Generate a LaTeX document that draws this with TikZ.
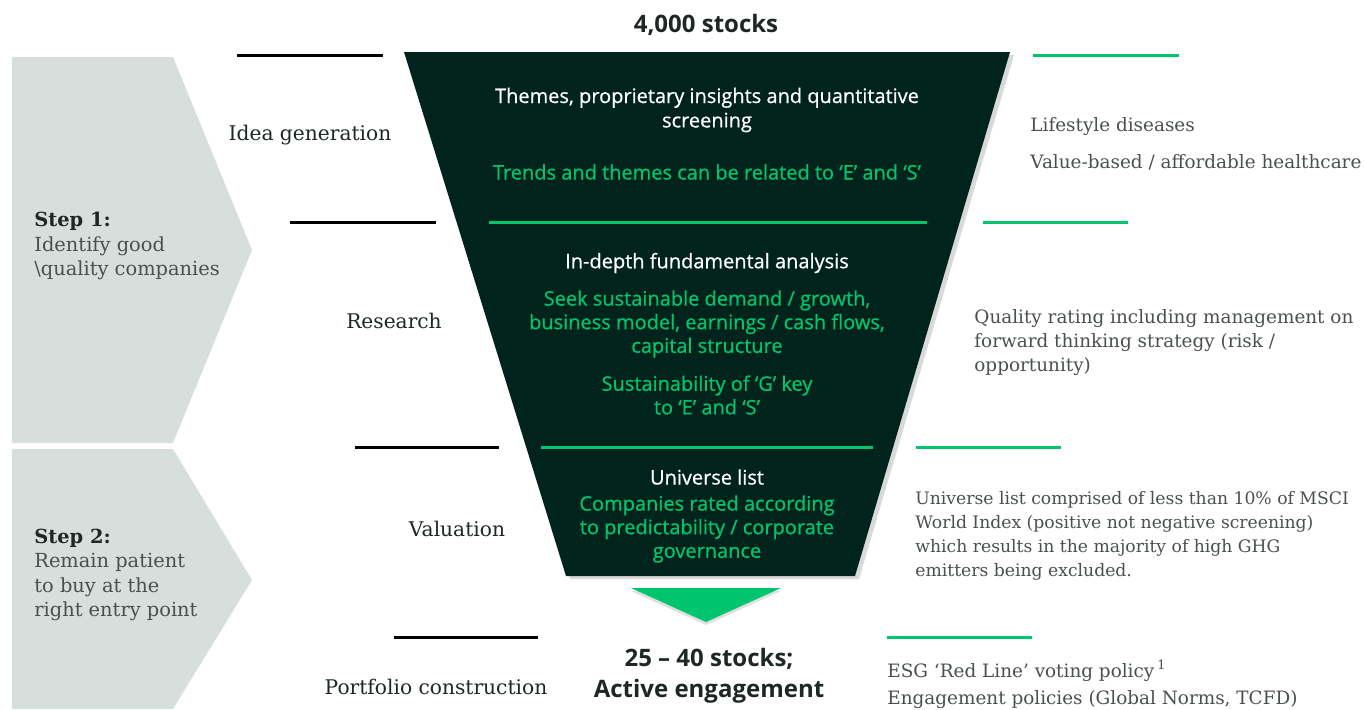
\documentclass[tikz,border=0pt]{standalone}
\usepackage{fontspec}
\setmainfont{DejaVu Serif}
\setsansfont{Open Sans}
\newfontfamily\funnelfont{Open Sans}[FakeBold=0.6]
\usetikzlibrary{positioning,shadows}
\definecolor{funneldark}{HTML}{00241C}
\definecolor{brightgreen}{HTML}{00C46E}
\definecolor{stepgrey}{HTML}{D7DFDC}
\definecolor{inkdark}{HTML}{1E2626}
\definecolor{inkgrey}{HTML}{4A4F4F}
\tikzset{
	stage/.style={inner sep=0pt, text=inkdark, font=\fontsize{10.1}{12}\selectfont},
	note/.style={inner sep=0pt, anchor=west, align=left, text=inkgrey, font=\fontsize{9.2}{12}\selectfont},
	steptext/.style={inner sep=0pt, anchor=west, align=left, text=inkgrey, font=\fontsize{9.7}{12.3}\selectfont},
	bighead/.style={inner sep=0pt, align=center, text=inkdark, font=\sffamily\bfseries\fontsize{12}{15.5}\selectfont},
	whitehead/.style={inner sep=0pt, align=center, text=white, font=\funnelfont\fontsize{10}{12.2}\selectfont},
	greentext/.style={inner sep=0pt, align=center, text=brightgreen, font=\funnelfont\fontsize{10}{11.8}\selectfont},
	leftrule/.style={draw=black, line width=1.5pt},
	rightrule/.style={draw=brightgreen, line width=1.5pt}
}
\begin{document}
\begin{tikzpicture}[x=0.5pt, y=-0.5pt]
	\useasboundingbox (0,0) rectangle (1364,709);
	\fill[stepgrey] (12,57) -- (173,57) -- (252,250) -- (173,443) -- (12,443) -- cycle;
	\fill[stepgrey] (12,449) -- (173,449) -- (252,580) -- (173,709) -- (12,709) -- cycle;
	\fill[funneldark, drop shadow={shadow xshift=2pt, shadow yshift=-1.5pt, opacity=0.3}] (404,52) -- (1010,52) -- (855,576) -- (566,576) -- cycle;
	\fill[brightgreen, drop shadow={shadow xshift=0pt, shadow yshift=-1.5pt, opacity=0.25}] (631,588) -- (781,588) -- (706,622) -- cycle;
	\draw[rightrule] (489,222) -- (927,222);
	\draw[rightrule] (541,447) -- (873,447);
	\draw[leftrule] (237,55) -- (383,55);
	\draw[leftrule] (290,222) -- (436,222);
	\draw[leftrule] (355,447) -- (499,447);
	\draw[leftrule] (394,637) -- (538,637);
	\draw[rightrule] (1033,55) -- (1179,55);
	\draw[rightrule] (983,222) -- (1128,222);
	\draw[rightrule] (916,447) -- (1061,447);
	\draw[rightrule] (887,637) -- (1032,637);
	\node[bighead] (top) at (706,25) {4,000 stocks};
	\node[whitehead] (themes) at (707,110) {Themes, proprietary insights and quantitative\\screening};
	\node[greentext] (trends) at (707,172) {Trends and themes can be related to ‘E’ and ‘S’};
	\node[whitehead] (depth) at (707,263) {In-depth fundamental analysis};
	\node[greentext] (seek) at (707,324) {Seek sustainable demand / growth,\\business model, earnings / cash flows,\\capital structure};
	\node[greentext] (gkey) at (707,395) {Sustainability of ‘G’ key\\to ‘E’ and ‘S’};
	\node[whitehead] (universe) at (707,477) {Universe list};
	\node[greentext] (rated) at (707,529) {Companies rated according\\to predictability / corporate\\governance};
	\node[bighead] (final) at (709,676) {25 -- 40 stocks;\\Active engagement};
	\node[stage] (idea) at (310,135) {Idea generation};
	\node[stage] (research) at (394,321) {Research};
	\node[stage] (valuation) at (457,529) {Valuation};
	\node[stage] (portfolio) at (436,687) {Portfolio construction};
	\node[steptext] (step1) at (34,246) {\textcolor{inkdark}{\textbf{Step 1:}}\\Identify good\\\textbackslash quality companies};
	\node[steptext] (step2) at (34,575) {\textcolor{inkdark}{\textbf{Step 2:}}\\Remain patient\\to buy at the\\right entry point};
	\node[note] (lifestyle) at (1030,127) {Lifestyle diseases};
	\node[note] (value) at (1030,162) {Value-based / affordable healthcare};
	\node[note] (quality) at (974,343) {Quality rating including management on\\forward thinking strategy (risk /\\opportunity)};
	\node[note, font=\fontsize{8.6}{12}\selectfont] (msci) at (915,536) {Universe list comprised of less than 10\% of MSCI\\World Index (positive not negative screening)\\which results in the majority of high GHG\\emitters being excluded.};
	\node[note] (esg) at (887,671) {ESG ‘Red Line’ voting policy\,\textsuperscript{1}};
	\node[note] (engage) at (887,700) {Engagement policies (Global Norms, TCFD)};
\end{tikzpicture}
\end{document}
